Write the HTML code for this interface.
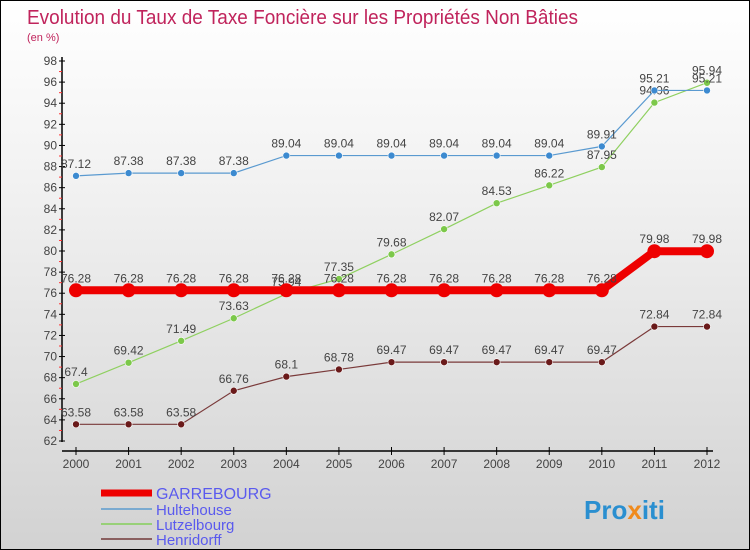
<!DOCTYPE html>
<html><head><meta charset="utf-8"><style>
body{margin:0}
#c{width:750px;height:550px;position:relative;box-sizing:border-box;border:1px solid #000;background:linear-gradient(#fff,#f3f3f3 30%,#d2d2d2);font-family:"Liberation Sans",sans-serif;overflow:hidden}
svg{position:absolute;left:0;top:0}
</style></head><body>
<div id="c">
<svg id="s" width="750" height="550">
<text x="26" y="23" font-size="20" fill="#c0245c" textLength="551" lengthAdjust="spacingAndGlyphs">Evolution du Taux de Taxe Foncière sur les Propriétés Non Bâties</text>
<text x="26" y="40" font-size="11" fill="#c0245c">(en %)</text>
<text x="583" y="518" font-size="26" font-weight="bold" fill="#2a8fd0">Pro<tspan fill="#f08a1c">x</tspan>iti</text>
</svg>
</div>
<script>
const years=[2000,2001,2002,2003,2004,2005,2006,2007,2008,2009,2010,2011,2012];
const garrebourg=[76.28,76.28,76.28,76.28,76.28,76.28,76.28,76.28,76.28,76.28,76.28,79.98,79.98];
const hultehouse=[87.12,87.38,87.38,87.38,89.04,89.04,89.04,89.04,89.04,89.04,89.91,95.21,95.21];
const lutzelbourg=[67.4,69.42,71.49,73.63,75.94,77.35,79.68,82.07,84.53,86.22,87.95,94.06,95.94];
const henridorff=[63.58,63.58,63.58,66.76,68.1,68.78,69.47,69.47,69.47,69.47,69.47,72.84,72.84];
const yTicks=[62,64,66,68,70,72,74,76,78,80,82,84,86,88,90,92,94,96,98];
const series=[
 {name:'henridorff',label:'Henridorff',data:henridorff,color:'#7a3a3a',dot:'#6a1a1a',w:1.2,r:3.5},
 {name:'lutzelbourg',label:'Lutzelbourg',data:lutzelbourg,color:'#8fd060',dot:'#7cc84a',w:1.2,r:3.5},
 {name:'hultehouse',label:'Hultehouse',data:hultehouse,color:'#5a9ad0',dot:'#3c8ad0',w:1.2,r:3.5},
 {name:'garrebourg',label:'GARREBOURG',data:garrebourg,color:'#ee0000',dot:'#ee0000',w:8,r:7}
];
const NS='http://www.w3.org/2000/svg';
const s=document.getElementById('s');
const X=i=>75+i*(706-75)/(years.length-1);
const Y=v=>60+(98-v)*380/36;
function el(t,a,p){const e=document.createElementNS(NS,t);for(const k in a)e.setAttribute(k,a[k]);(p||s).appendChild(e);return e;}
let a=el('line',{x1:61,y1:56,x2:61,y2:441,stroke:'#000','stroke-width':1.5});


a=el('line',{x1:61,y1:450,x2:712,y2:450,stroke:'#000','stroke-width':1.5});


yTicks.forEach(v=>{
 el('line',{x1:58,x2:64,y1:Y(v),y2:Y(v),stroke:'#000'});
 if(v<98){el('line',{x1:58,x2:61,y1:Y(v+1),y2:Y(v+1),stroke:'#f33'});}
 const t=el('text',{x:56,y:Y(v)+4,'font-size':12,fill:'#444','text-anchor':'end'});
 t.textContent=v;
 
 
});
years.forEach((yr,i)=>{
 el('line',{x1:X(i),x2:X(i),y1:446,y2:454,stroke:'#000'});
 const t=el('text',{x:X(i),y:467,'font-size':12,fill:'#444','text-anchor':'middle'});
 t.textContent=yr;
 
 
});
series.forEach(sr=>{
 const p=el('polyline',{points:sr.data.map((v,i)=>X(i)+','+Y(v)).join(' '),fill:'none',stroke:sr.color,'stroke-width':sr.w});
 
 
 sr.data.forEach((v,i)=>{
  const c=el('circle',{cx:X(i),cy:Y(v),r:sr.r,fill:sr.dot,stroke:'#fff','stroke-width':sr.w>2?0:0.6});
  
  
  const t=el('text',{x:X(i),y:Y(v)-8,'font-size':12,fill:'#444','text-anchor':'middle'});
  t.textContent=v;
  
  
 });
});
const leg=[['garrebourg','GARREBOURG','#ee0000',7,492,16],['hultehouse','Hultehouse','#7aaad0',2,508,15],['lutzelbourg','Lutzelbourg','#98d078',2,523,15],['henridorff','Henridorff','#8a6060',2,538,15]];
leg.forEach(l=>{
 const g=el('g',{});
 
 
 el('line',{x1:100,x2:151,y1:l[4],y2:l[4],stroke:l[2],'stroke-width':l[3]},g);
 const t=el('text',{x:155,y:l[4]+6,'font-size':l[5],fill:'#5a5aee'},g);
 t.textContent=l[1];
});
</script>
</body></html>
